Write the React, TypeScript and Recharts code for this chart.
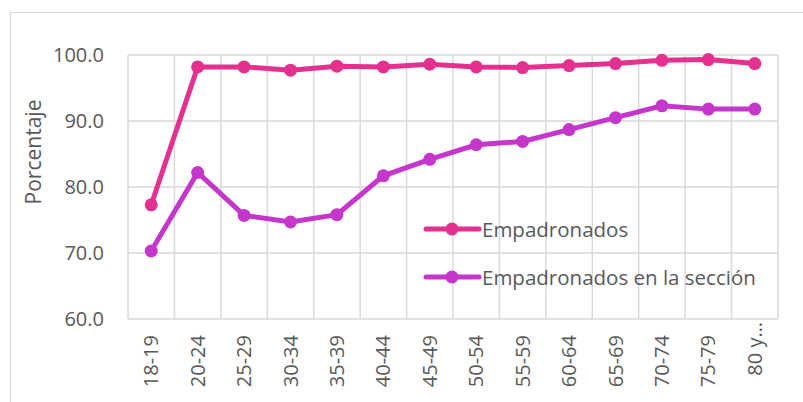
import { LineChart, Line, XAxis, YAxis, CartesianGrid, Label } from "recharts";

const AGE_GROUPS = [
  "18-19", "20-24", "25-29", "30-34", "35-39", "40-44", "45-49",
  "50-54", "55-59", "60-64", "65-69", "70-74", "75-79", "80 y más",
];
const EMPADRONADOS = [77.3, 98.2, 98.2, 97.7, 98.3, 98.2, 98.6, 98.2, 98.1, 98.4, 98.7, 99.2, 99.3, 98.7];
const EN_SECCION = [70.3, 82.2, 75.7, 74.7, 75.8, 81.7, 84.2, 86.4, 86.9, 88.7, 90.5, 92.3, 91.8, 91.8];
const Y_TICKS = [60, 70, 80, 90, 100];

const PINK = "#E4308E";
const MAGENTA = "#C536CA";
const GRID = "#D9D9D9";
const TEXT = "#595959";
const FONT = "'Open Sans', sans-serif";

const data = AGE_GROUPS.map((g, i) => ({
  group: g,
  empadronados: EMPADRONADOS[i],
  seccion: EN_SECCION[i],
}));

const SERIES = [
  { key: "empadronados", name: "Empadronados", color: PINK },
  { key: "seccion", name: "Empadronados en la sección", color: MAGENTA },
];

function XTick({ x, y, payload, index }: any) {
  const last = index === AGE_GROUPS.length - 1;
  const label = last ? "80 y…" : payload.value;
  return (
    <g transform={`translate(${x},${y - (last ? 13 : 0)})`}>
      <text transform="rotate(-90)" x={0} y={0} dy={7} textAnchor="end" fill={TEXT} fontSize={20} fontFamily={FONT}>
        {label}
      </text>
    </g>
  );
}

function LegendBox() {
  return (
    <div style={{ position: "absolute", left: 423, top: 205, fontFamily: FONT, fontSize: 20.5, color: TEXT }}>
      {SERIES.map((s) => (
        <div key={s.key} style={{ display: "flex", alignItems: "center", height: 48 }}>
          <svg width={59} height={16} style={{ display: "block" }}>
            <line x1={3} y1={8} x2={56} y2={8} stroke={s.color} strokeWidth={5} strokeLinecap="round" />
            <circle cx={29} cy={8} r={6.5} fill={s.color} />
          </svg>
          <span style={{ whiteSpace: "nowrap", lineHeight: "20px" }}>{s.name}</span>
        </div>
      ))}
    </div>
  );
}

export default function App() {
  return (
    <div style={{ position: "absolute", left: 0, top: 0, width: 803, height: 402, overflow: "hidden", background: "#fff" }}>
      <div
        style={{
          position: "absolute",
          left: 10,
          top: 12,
          width: 820,
          height: 420,
          border: `1.5px solid ${GRID}`,
          boxSizing: "border-box",
        }}
      />
      <div style={{ position: "absolute", left: 0, top: 0 }}>
        <LineChart width={803} height={402} data={data} margin={{ top: 55, right: 25, bottom: 0, left: 28 }}>
          <CartesianGrid
            stroke={GRID}
            strokeWidth={1.5}
            verticalCoordinatesGenerator={({ offset }: any) =>
              Array.from({ length: AGE_GROUPS.length + 1 }, (_, i) => offset.left + (i * offset.width) / AGE_GROUPS.length)
            }
          />
          <XAxis
            dataKey="group"
            scale="band"
            axisLine={false}
            tickLine={false}
            tickSize={0}
            tickMargin={16}
            interval={0}
            tick={<XTick />}
            height={83}
          />
          <YAxis
            width={100}
            domain={[60, 100]}
            ticks={Y_TICKS}
            interval={0}
            axisLine={false}
            tickLine={false}
            tickSize={0}
            tickMargin={24}
            tickFormatter={(v: number) => v.toFixed(1)}
            tick={{ fill: TEXT, fontSize: 20, fontFamily: FONT }}
          >
            <Label
              content={() => (
                <text
                  x={33}
                  y={152}
                  transform="rotate(-90, 33, 152)"
                  textAnchor="middle"
                  dominantBaseline="central"
                  fill={TEXT}
                  fontSize={21}
                  fontFamily={FONT}
                >
                  Porcentaje
                </text>
              )}
            />
          </YAxis>
          {SERIES.map((s) => (
            <Line
              key={s.key}
              dataKey={s.key}
              name={s.name}
              stroke={s.color}
              strokeWidth={5}
              dot={{ r: 6.5, fill: s.color, stroke: s.color, strokeWidth: 0 }}
              activeDot={false}
              isAnimationActive={false}
            />
          ))}
        </LineChart>
      </div>
      <LegendBox />
    </div>
  );
}
